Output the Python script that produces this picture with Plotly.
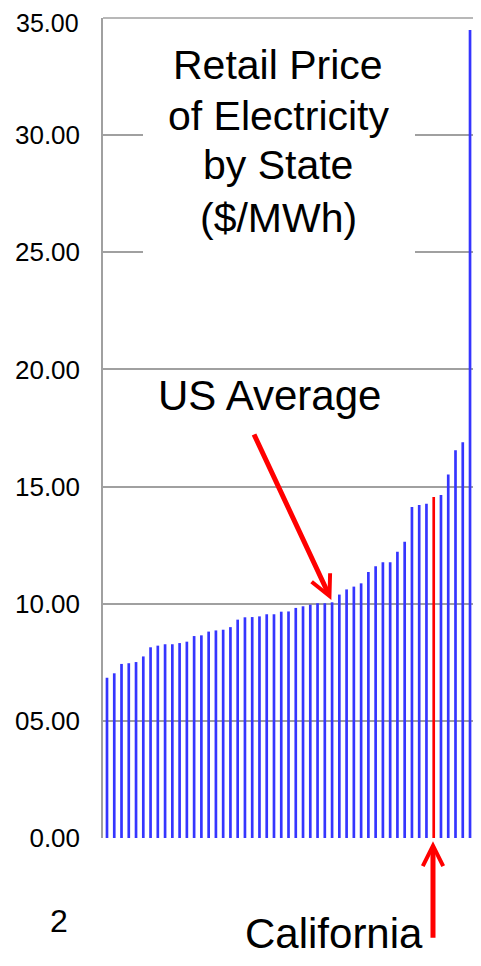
import plotly.graph_objects as go

# ---- data ----
ranks = list(range(1, 52))
prices = [6.84, 7.03, 7.43, 7.46, 7.51, 7.75, 8.14, 8.21, 8.27, 8.27,
          8.32, 8.38, 8.62, 8.65, 8.81, 8.86, 8.89, 9.00, 9.32, 9.42,
          9.43, 9.46, 9.55, 9.55, 9.66, 9.67, 9.82, 9.89, 9.96, 10.02,
          10.02, 10.06, 10.39, 10.61, 10.73, 10.87, 11.35, 11.60, 11.77, 11.77,
          12.22, 12.65, 14.13, 14.21, 14.27, 14.55, 14.64, 15.52, 16.55, 16.89,
          34.49]
california_rank = 46
us_average_rank = 32
us_average_value = 10.16
tick_vals = [0, 5, 10, 15, 20, 25, 30]
tick_text = ["0.00", "05.00", "10.00", "15.00", "20.00", "25.00", "30.00"]
top_tick_text = "35.00"
title_lines = ["Retail Price", "of Electricity", "by State", "($/MWh)"]

BLUE = "#3535FF"
RED = "#FF0000"
GRID = "#A0A0A0"
FONT = "Liberation Sans, Arial, sans-serif"
X_RANGE = [0.45, 51.41]

colors = [RED if r == california_rank else BLUE for r in ranks]

fig = go.Figure(go.Bar(x=ranks, y=prices, marker=dict(color=colors, line=dict(width=0)),
                       cliponaxis=False))

# page has an 8px body margin, so the figure is 473x950 placed at (8, 8)
fig.update_layout(
    width=473, height=950,
    margin=dict(l=95, r=8, t=10, b=120, autoexpand=False),
    paper_bgcolor="white", plot_bgcolor="rgba(0,0,0,0)",
    bargap=0.63,
    showlegend=False,
    font=dict(family=FONT, color="black"),
)
fig.update_xaxes(range=X_RANGE, showticklabels=False, showgrid=False,
                 zeroline=False, showline=False, ticks="", automargin=False)
fig.update_yaxes(range=[0, 35], tickvals=tick_vals, ticktext=tick_text,
                 tickfont=dict(size=26, family=FONT, color="black"),
                 showgrid=True, gridcolor=GRID, gridwidth=1.5,
                 zeroline=False, showline=True, linecolor=GRID, linewidth=1.5,
                 ticks="", ticklabelstandoff=16, automargin=False,
                 ticklabeloverflow="allow")

# top gridline at 35
fig.add_shape(type="line", xref="paper", yref="paper", x0=0, x1=1, y0=1, y1=1,
              line=dict(color=GRID, width=1.5), layer="above")

# label of the top gridline, kept inside the figure
fig.add_annotation(xref="paper", yref="paper", x=-0.0622, y=1.0122, text=top_tick_text,
                   showarrow=False, font=dict(size=25, family=FONT, color="black"),
                   xanchor="right", yanchor="top", borderpad=0)

# white box behind the title (covers gridlines)
fig.add_annotation(xref="paper", yref="paper", x=0.4757, y=0.8512, text=" ",
                   showarrow=False, width=272, height=230, bgcolor="white",
                   borderpad=0, borderwidth=0, xanchor="center", yanchor="middle")

title_y = [0.9430, 0.8805, 0.8207, 0.7560]
for line, yy in zip(title_lines, title_y):
    fig.add_annotation(xref="paper", yref="paper", x=0.474, y=yy, text=line,
                       showarrow=False, font=dict(size=41, family=FONT, color="black"),
                       xanchor="center", yanchor="middle")

fig.add_annotation(xref="paper", yref="paper", x=0.449, y=0.540, text="US Average",
                   showarrow=False, font=dict(size=42, family=FONT, color="black"),
                   xanchor="center", yanchor="middle")

fig.add_annotation(x=us_average_rank - 0.1, y=us_average_value, xref="x", yref="y",
                   text="", showarrow=True, axref="pixel", ayref="pixel",
                   ax=-78, ay=-167, arrowhead=5, arrowsize=0.8, arrowwidth=5,
                   arrowcolor=RED)

fig.add_annotation(x=(california_rank - 0.1 - X_RANGE[0]) / (X_RANGE[1] - X_RANGE[0]),
                   y=-0.004, xref="paper", yref="paper",
                   text="", showarrow=True, axref="pixel", ayref="pixel",
                   ax=0, ay=98, arrowhead=5, arrowsize=0.8, arrowwidth=5,
                   arrowcolor=RED)

fig.add_annotation(xref="paper", yref="paper", x=0.625, y=-0.116, text="California",
                   showarrow=False, font=dict(size=42, family=FONT, color="black"),
                   xanchor="center", yanchor="middle")

fig.add_annotation(xref="paper", yref="paper", x=-0.119, y=-0.101, text="2",
                   showarrow=False, font=dict(size=32, family=FONT, color="black"),
                   xanchor="center", yanchor="middle")

fig.write_html("out.html")
